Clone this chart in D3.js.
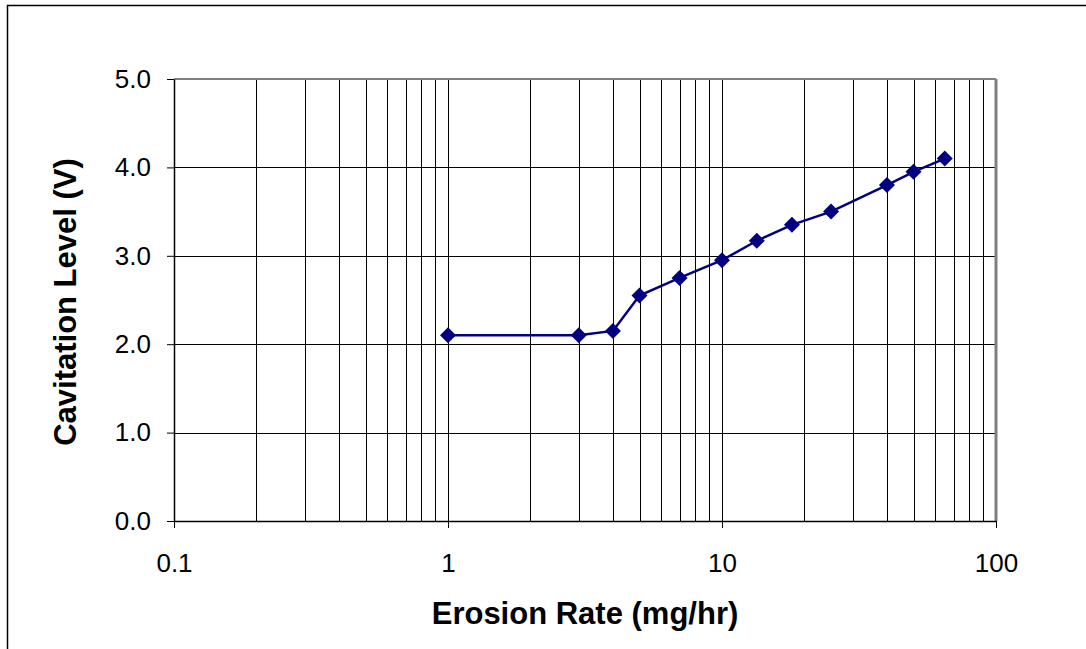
<!DOCTYPE html>
<html>
<head>
<meta charset="utf-8">
<script src="https://cdn.jsdelivr.net/npm/d3@7"></script>
<style>
  body { margin: 0; background: #fff; }
  svg { display: block; font-family: "Liberation Sans", Arial, sans-serif; }
</style>
</head>
<body>
<div id="chart"></div>
<script>
// data
const erosionRate = [1, 3, 4, 5, 7, 10, 13.4, 18, 25, 40, 50, 65];
const cavitation = [2.1, 2.1, 2.15, 2.55, 2.75, 2.95, 3.17, 3.35, 3.5, 3.8, 3.95, 4.1];
const xTicks = [0.1, 1, 10, 100];
const yTicks = [0, 1, 2, 3, 4, 5];

const width = 1086, height = 649;
const margin = { left: 174, right: 90, top: 79, bottom: 128 };

const svg = d3.select('#chart').append('svg')
    .attr('width', width)
    .attr('height', height);

// outer chart border (runs off right and bottom like the original)
svg.append('rect')
    .attr('x', 7.5).attr('y', 5.5)
    .attr('width', 1100).attr('height', 700)
    .attr('fill', 'none')
    .attr('stroke', '#000')
    .attr('stroke-width', 1.5);

const x = d3.scaleLog().domain([0.1, 100]).range([margin.left, width - margin.right]);
const y = d3.scaleLinear().domain([0, 5]).range([height - margin.bottom, margin.top]);

const grid = svg.append('g');

// vertical minor/major gridlines
const minor = [];
for (let d = 0.1; d < 100; d *= 10) {
    for (let k = 2; k <= 9; k++) minor.push(+(d * k).toPrecision(3));
}
minor.push(1, 10);
grid.selectAll('line.v')
    .data(minor)
    .enter().append('line')
    .attr('x1', d => Math.round(x(d)) + 0.5)
    .attr('x2', d => Math.round(x(d)) + 0.5)
    .attr('y1', y(5))
    .attr('y2', y(0))
    .attr('stroke', '#000')
    .attr('stroke-width', 1);

// horizontal gridlines
grid.selectAll('line.h')
    .data(yTicks.slice(1, -1))
    .enter().append('line')
    .attr('x1', x(0.1))
    .attr('x2', x(100))
    .attr('y1', d => Math.round(y(d)) + 0.5)
    .attr('y2', d => Math.round(y(d)) + 0.5)
    .attr('stroke', '#000')
    .attr('stroke-width', 1);

// plot frame: top and right in gray
svg.append('line')
    .attr('x1', x(0.1)).attr('x2', x(100))
    .attr('y1', y(5)).attr('y2', y(5))
    .attr('stroke', '#808080').attr('stroke-width', 2);
svg.append('line')
    .attr('x1', x(100)).attr('x2', x(100))
    .attr('y1', y(5)).attr('y2', y(0))
    .attr('stroke', '#808080').attr('stroke-width', 3);

// axes
const xAxis = d3.axisBottom(x)
    .tickValues(xTicks)
    .tickFormat(d3.format('~g'))
    .tickSize(7)
    .tickSizeOuter(0);
const gx = svg.append('g')
    .attr('transform', `translate(0,${y(0)})`)
    .call(xAxis);

const yAxis = d3.axisLeft(y)
    .tickValues(yTicks)
    .tickFormat(d3.format('.1f'))
    .tickSize(7)
    .tickSizeOuter(0);
const gy = svg.append('g')
    .attr('transform', `translate(${x(0.1)},0)`)
    .call(yAxis);

[gx, gy].forEach(g => {
    g.select('.domain').attr('stroke', '#000').attr('stroke-width', 1.5);
    g.selectAll('.tick line').attr('stroke', '#000');
    g.selectAll('.tick text')
        .attr('fill', '#000')
        .style('font-size', '26px')
        .style('font-family', '"Liberation Sans", Arial, sans-serif');
});
gx.selectAll('.tick text').attr('y', 51).attr('dy', 0);
gy.selectAll('.tick text').attr('x', -23).attr('dy', '0.32em');

// axis titles
svg.append('text')
    .attr('x', (x(0.1) + x(100)) / 2)
    .attr('y', 624)
    .attr('text-anchor', 'middle')
    .style('font-size', '31px')
    .style('font-weight', 'bold')
    .text('Erosion Rate (mg/hr)');

svg.append('text')
    .attr('transform', `translate(76,${(y(0) + y(5)) / 2 + 2}) rotate(-90)`)
    .attr('text-anchor', 'middle')
    .style('font-size', '31px')
    .style('font-weight', 'bold')
    .text('Cavitation Level (V)');

// series
const pts = erosionRate.map((v, i) => [v, cavitation[i]]);
const line = d3.line()
    .x(d => x(d[0]))
    .y(d => y(d[1]));

svg.append('path')
    .datum(pts)
    .attr('d', line)
    .attr('fill', 'none')
    .attr('stroke', '#000080')
    .attr('stroke-width', 2.5);

svg.append('g')
    .selectAll('path')
    .data(pts)
    .enter().append('path')
    .attr('d', d3.symbol().type(d3.symbolSquare).size(128))
    .attr('transform', d => `translate(${x(d[0])},${y(d[1])}) rotate(45)`)
    .attr('fill', '#000080');
</script>
</body>
</html>
